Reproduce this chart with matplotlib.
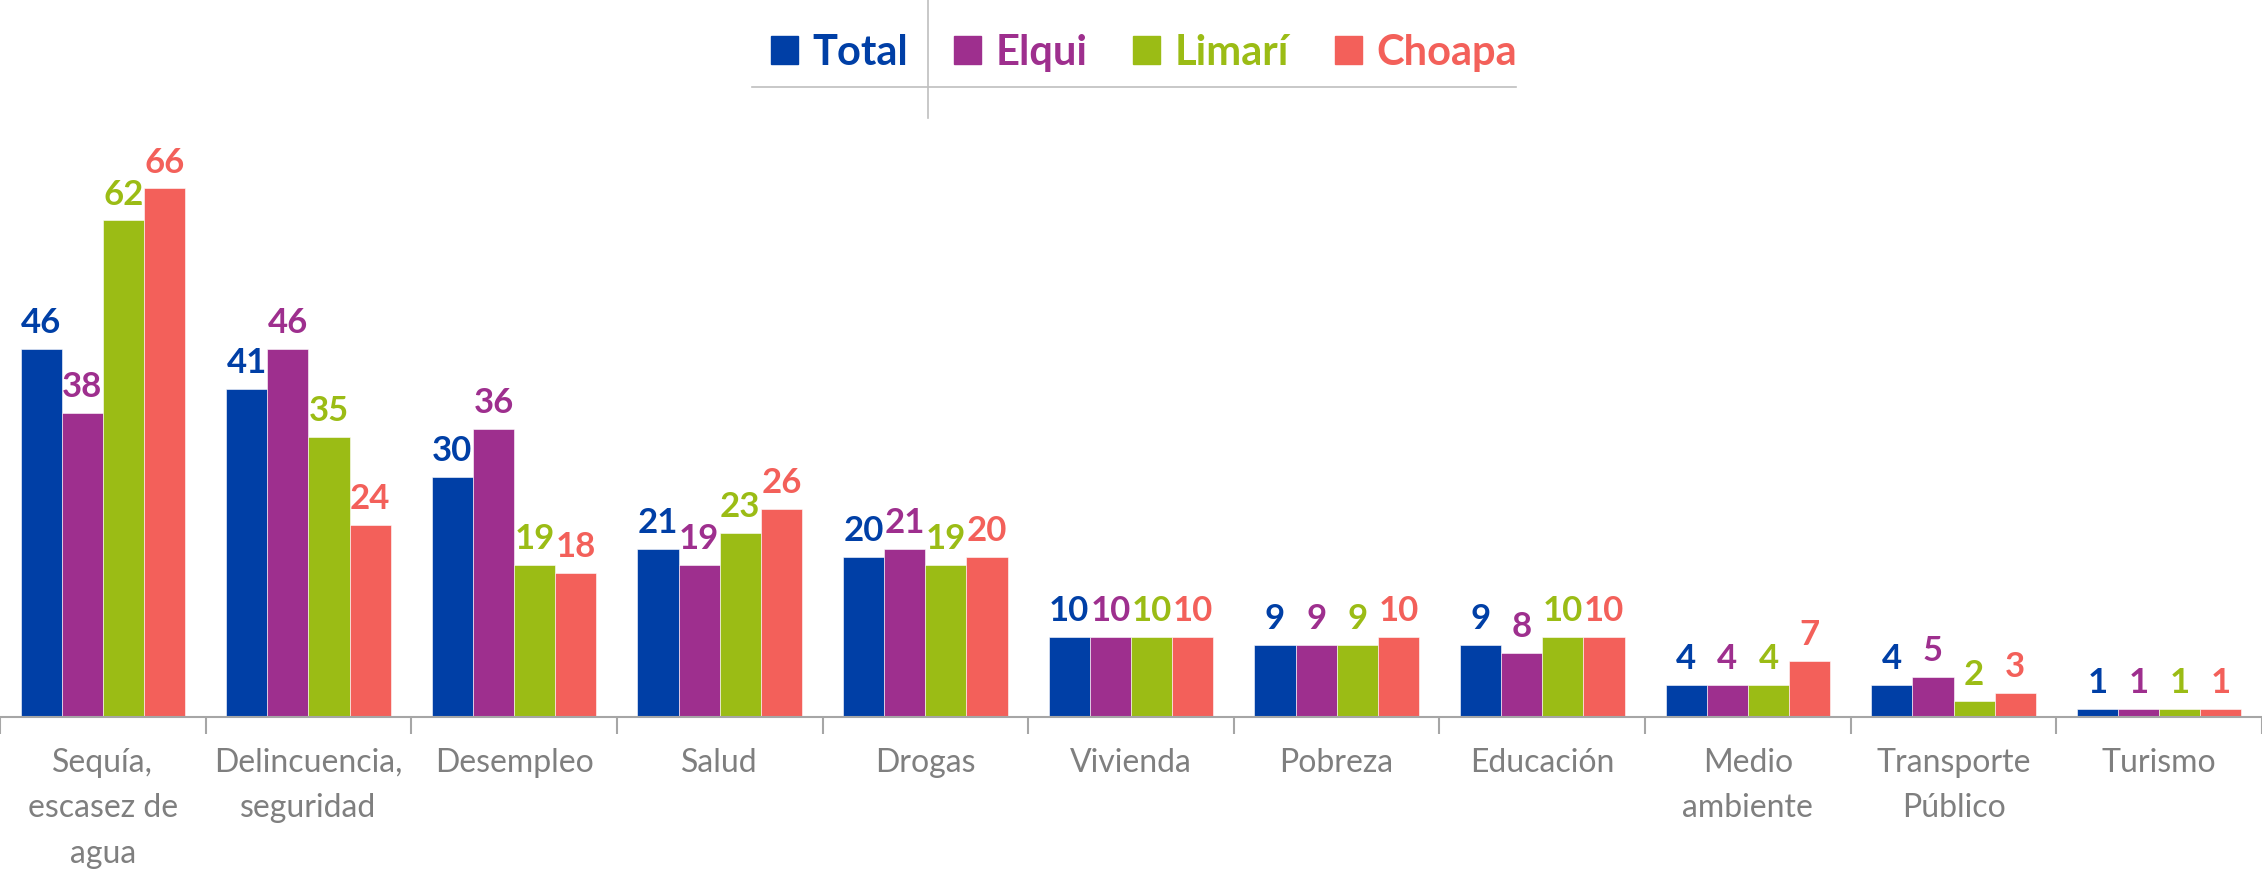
import matplotlib.pyplot as plt
import numpy as np
from matplotlib.lines import Line2D
from matplotlib.patches import Patch

plt.rcParams['font.family'] = ['Lato', 'DejaVu Sans']

categorias = ['Sequía,\nescasez de\nagua', 'Delincuencia,\nseguridad', 'Desempleo', 'Salud',
              'Drogas', 'Vivienda', 'Pobreza', 'Educación', 'Medio\nambiente',
              'Transporte\nPúblico', 'Turismo']
series = ['Total', 'Elqui', 'Limarí', 'Choapa']
total = [46, 41, 30, 21, 20, 10, 9, 9, 4, 4, 1]
elqui = [38, 46, 36, 19, 21, 10, 9, 8, 4, 5, 1]
limari = [62, 35, 19, 23, 19, 10, 9, 10, 4, 2, 1]
choapa = [66, 24, 18, 26, 20, 10, 10, 10, 7, 3, 1]
colores = ['#003FA6', '#9E2F8E', '#9BBC15', '#F3605A']

valores = [total, elqui, limari, choapa]

fig = plt.figure(figsize=(22.62, 8.76), dpi=100)
ax = fig.add_axes([0, 0.1815, 1, 0.64])

x = np.arange(len(categorias))
ancho = 0.2
for i, (vals, col) in enumerate(zip(valores, colores)):
    pos = x + (i - 1.5) * ancho
    ax.bar(pos, vals, width=ancho, color=col, edgecolor='white', linewidth=0.4)
    for xp, v in zip(pos, vals):
        ax.annotate(str(v), (xp, v), xytext=(0, 7), textcoords='offset points',
                    ha='center', va='bottom', color=col, fontsize=25,
                    fontweight='bold', clip_on=False)

ax.set_xlim(-0.5, len(categorias) - 0.5)
ax.set_ylim(0, 70)
ax.set_yticks([])
for s in ['top', 'right', 'left']:
    ax.spines[s].set_visible(False)
ax.spines['bottom'].set_color('#A6A6A6')
ax.spines['bottom'].set_linewidth(1.5)

ax.set_xticks(x)
ax.set_xticklabels(categorias, color='#7F7F7F', fontsize=23, linespacing=1.65)
ax.tick_params(axis='x', which='major', length=0, pad=22)
ax.set_xticks(np.arange(-0.5, len(categorias)), minor=True)
ax.tick_params(axis='x', which='minor', length=12, width=1.5, color='#A6A6A6')

# leyenda
handles = [Patch(facecolor=c, edgecolor=c) for c in colores]
leg = fig.legend(handles, series, loc='center', bbox_to_anchor=(1144 / 2262, 1 - 53 / 876),
                 ncol=4, frameon=False, prop={'size': 30, 'weight': 'bold'},
                 handlelength=0.65, handleheight=0.65, handletextpad=0.35, columnspacing=1.1)
for t, c in zip(leg.get_texts(), colores):
    t.set_color(c)

# lineas de la tabla de la leyenda
fig.add_artist(Line2D([752 / 2262, 1516 / 2262], [1 - 87 / 876, 1 - 87 / 876],
                      color='#BFBFBF', linewidth=1.2))
fig.add_artist(Line2D([928 / 2262, 928 / 2262], [1, 1 - 118 / 876],
                      color='#BFBFBF', linewidth=1.2))

fig.savefig('out.png', dpi=100)
